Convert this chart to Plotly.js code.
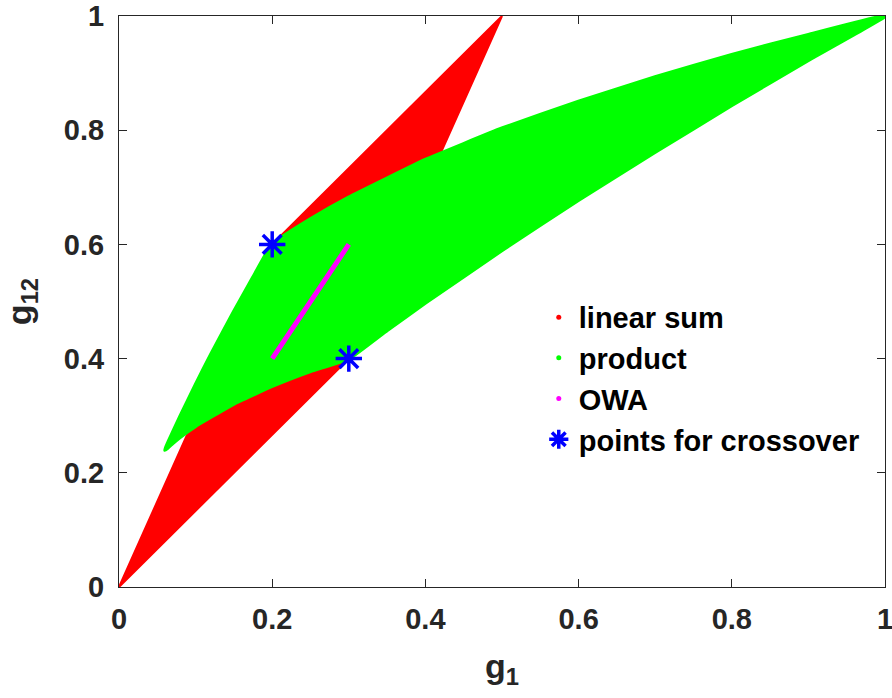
<!DOCTYPE html>
<html><head><meta charset="utf-8">
<script src="https://cdn.plot.ly/plotly-3.0.1.min.js"></script>
<style>html,body{margin:0;padding:0;background:#fff}#chart{width:892px;height:698px}</style>
</head><body><div id="chart"></div>
<script>
// Linear sum region (parallelogram vertices)
const linearX = [0, 0.2, 0.5, 0.3, 0];
const linearY = [0, 0.6, 1.0, 0.4, 0];
// Product region boundary
const productX = [1, 0.9, 0.8, 0.7, 0.6, 0.5, 0.4, 0.3, 0.25, 0.2,
  0.175, 0.15, 0.12, 0.1, 0.08, 0.07, 0.06,
  0.07, 0.08, 0.1, 0.15, 0.2, 0.25, 0.3,
  0.35, 0.4, 0.5, 0.6, 0.7, 0.8, 0.9, 1];
const productY = [1, 0.967, 0.932, 0.893, 0.850, 0.803, 0.748, 0.682, 0.644, 0.6,
  0.542, 0.482, 0.407, 0.354, 0.299, 0.270, 0.24,
  0.252, 0.263, 0.282, 0.321, 0.352, 0.378, 0.4,
  0.450, 0.498, 0.590, 0.678, 0.762, 0.844, 0.923, 1];
// OWA segment
const owaX = [0.2, 0.3];
const owaY = [0.4, 0.6];
// Points for crossover
const crossX = [0.2, 0.3];
const crossY = [0.6, 0.4];
const names = ['linear sum', 'product', 'OWA', 'points for crossover'];
const tickVals = [0, 0.2, 0.4, 0.6, 0.8, 1];
const tickText = ['0', '0.2', '0.4', '0.6', '0.8', '1'];

const RED = '#ff0000', GREEN = '#00ff00', MAG = '#ff00ff', BLUE = '#0000ff';
const FONT = 'Liberation Sans, Arial, sans-serif';
const STAR = {symbol: 'asterisk-open', size: 22, color: BLUE, line: {color: BLUE, width: 3.5}};
const traces = [
  {x: linearX, y: linearY, mode: 'lines', fill: 'toself', fillcolor: RED,
   line: {color: RED, width: 2}, showlegend: false, hoverinfo: 'skip'},
  {x: productX, y: productY, mode: 'lines', fill: 'toself', fillcolor: GREEN,
   line: {color: GREEN, width: 4, shape: 'spline', smoothing: 0.3}, showlegend: false, hoverinfo: 'skip'},
  {x: owaX, y: owaY, mode: 'lines', line: {color: MAG, width: 5}, showlegend: false},
  {x: crossX, y: crossY, mode: 'markers', showlegend: false, marker: STAR},
  // legend entries
  {x: [null], y: [null], mode: 'markers', name: names[0], marker: {color: RED, size: 5}},
  {x: [null], y: [null], mode: 'markers', name: names[1], marker: {color: GREEN, size: 5}},
  {x: [null], y: [null], mode: 'markers', name: names[2], marker: {color: MAG, size: 5}},
  {x: [null], y: [null], mode: 'markers', name: names[3], marker: STAR}
];

const axisCommon = {
  range: [0, 1], tickvals: tickVals, ticktext: tickText,
  ticks: 'inside', ticklen: 8, tickcolor: '#262626', tickwidth: 1,
  showline: true, linecolor: '#262626', linewidth: 1, mirror: 'ticks',
  showgrid: false, zeroline: false, fixedrange: true, ticklabeloverflow: 'allow',
  tickfont: {family: FONT, size: 29, color: '#262626', weight: 700}
};

const layout = {
  width: 892, height: 698,
  margin: {l: 119, r: 7, t: 16, b: 111},
  paper_bgcolor: '#ffffff', plot_bgcolor: '#ffffff',
  showlegend: true,
  legend: {x: 0.548, y: 0.517, xanchor: 'left', yanchor: 'top', bgcolor: 'rgba(0,0,0,0)',
    traceorder: 'normal',
    font: {family: FONT, size: 29, color: '#000000', weight: 700}},
  xaxis: Object.assign({}, axisCommon, {
    ticklabelstandoff: 6,
    title: {text: 'g<sub>1</sub>', standoff: 20,
      font: {family: FONT, size: 34, color: '#262626', weight: 700}}}),
  yaxis: Object.assign({}, axisCommon, {
    ticklabelstandoff: 8,
    title: {text: 'g<sub>12</sub>', standoff: 22,
      font: {family: FONT, size: 34, color: '#262626', weight: 700}}})
};

Plotly.newPlot('chart', traces, layout, {displayModeBar: false, staticPlot: true});
</script></body></html>
